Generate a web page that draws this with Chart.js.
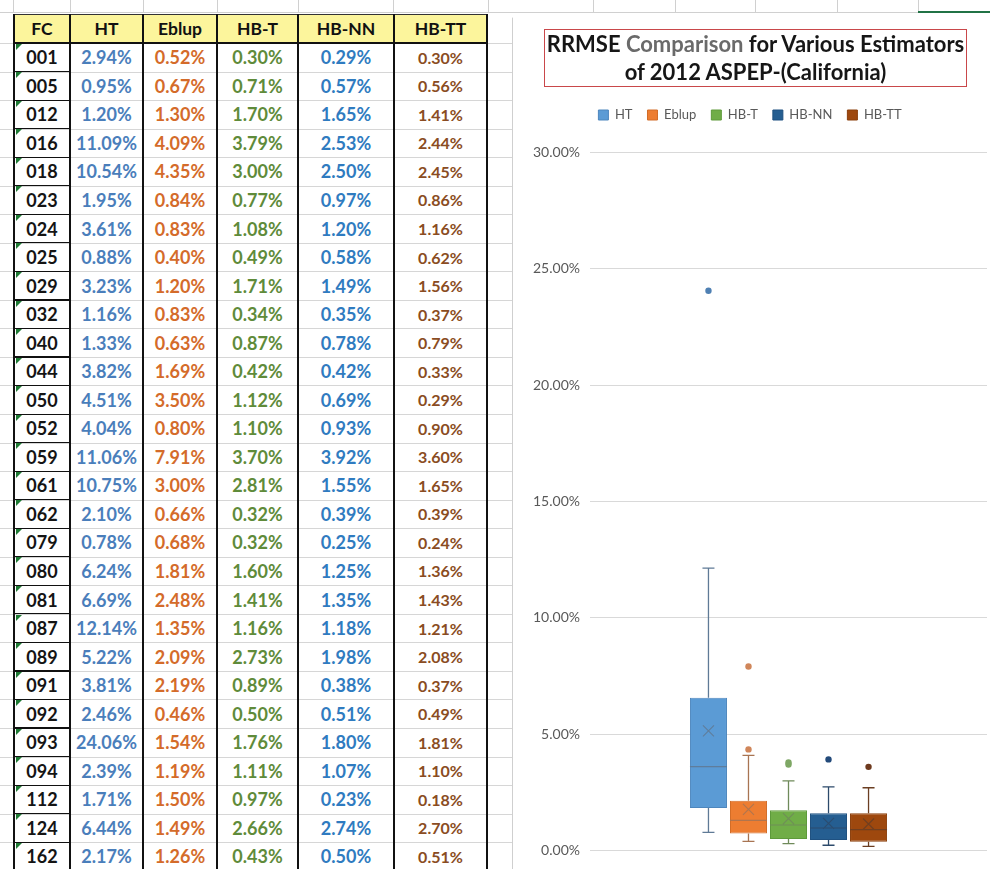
<!DOCTYPE html>
<html>
<head>
<meta charset="utf-8">
<script src="https://cdn.jsdelivr.net/npm/chart.js@4"></script>
<style>
  html, body { margin: 0; padding: 0; background: #fff; }
  body { width: 990px; height: 869px; overflow: hidden; position: relative; font-family: Lato, "Open Sans", sans-serif; }
  .ln { position: absolute; }
  .cell { position: absolute; display: flex; align-items: center; justify-content: center; font-weight: 700; white-space: nowrap; }
  .tri { position: absolute; width: 0; height: 0; border-top: 6px solid #1e7b34; border-right: 6px solid transparent; }
  #chartBox { position: absolute; left: 513px; top: 17px; width: 490px; height: 852px; background: #fff; }
  #title { position: absolute; left: 544px; top: 29px; width: 421px; height: 56px; border: 1.5px solid #c9474a;
           font-weight: 700; font-size: 22px; line-height: 28px; text-align: center; color: #161616; }
  #title .soft { color: #6a6a6a; }
</style>
</head>
<body>
<div id="sheet"></div>
<div id="chartBox"><canvas id="c" width="490" height="852"></canvas></div>
<div id="title"><div>RRMSE <span class="soft">Comparison</span> for Various Estimators</div><div>of 2012 ASPEP-(California)</div></div>
<script>
// FC codes and RRMSE (%) of each estimator
const fcCodes = ['001','005','012','016','018','023','024','025','029','032','040','044','050','052','059',
                 '061','062','079','080','081','087','089','091','092','093','094','112','124','162'];
const htValues    = [2.94,0.95,1.20,11.09,10.54,1.95,3.61,0.88,3.23,1.16,1.33,3.82,4.51,4.04,11.06,
                     10.75,2.10,0.78,6.24,6.69,12.14,5.22,3.81,2.46,24.06,2.39,1.71,6.44,2.17];
const eblupValues = [0.52,0.67,1.30,4.09,4.35,0.84,0.83,0.40,1.20,0.83,0.63,1.69,3.50,0.80,7.91,
                     3.00,0.66,0.68,1.81,2.48,1.35,2.09,2.19,0.46,1.54,1.19,1.50,1.49,1.26];
const hbtValues   = [0.30,0.71,1.70,3.79,3.00,0.77,1.08,0.49,1.71,0.34,0.87,0.42,1.12,1.10,3.70,
                     2.81,0.32,0.32,1.60,1.41,1.16,2.73,0.89,0.50,1.76,1.11,0.97,2.66,0.43];
const hbnnValues  = [0.29,0.57,1.65,2.53,2.50,0.97,1.20,0.58,1.49,0.35,0.78,0.42,0.69,0.93,3.92,
                     1.55,0.39,0.25,1.25,1.35,1.18,1.98,0.38,0.51,1.80,1.07,0.23,2.74,0.50];
const hbttValues  = [0.30,0.56,1.41,2.44,2.45,0.86,1.16,0.62,1.56,0.37,0.79,0.33,0.29,0.90,3.60,
                     1.65,0.39,0.24,1.36,1.43,1.21,2.08,0.37,0.49,1.81,1.10,0.18,2.70,0.51];
const seriesNames = ['HT','Eblup','HB-T','HB-NN','HB-TT'];
const seriesValues = [htValues, eblupValues, hbtValues, hbnnValues, hbttValues];
const yTickMax = 30;
const yTickStep = 5;

// ---------- worksheet table ----------
const sheet = document.getElementById('sheet');
function el(cls, css, html) {
  const d = document.createElement('div');
  d.className = cls;
  Object.assign(d.style, css);
  if (html !== undefined) d.textContent = html;
  sheet.appendChild(d);
  return d;
}
const colEdges = [14, 70, 143, 217, 298, 394, 487];
const headTop = 14, headBottom = 43, rowH = 28.54;
const textColors = ['#4a7ebb', '#d46b2a', '#5f8b3a', '#2f7bc0', '#8a4c22'];
const textSizes = ['18px', '18px', '18px', '18px', '16px'];

// header fill
el('ln', { left: colEdges[0] + 'px', top: headTop + 'px', width: (colEdges[6] - colEdges[0]) + 'px', height: (headBottom - headTop) + 'px', background: '#fcf59c' });
// sheet gridlines
el('ln', { left: '0px', top: '12px', width: '990px', height: '1px', background: '#d0d0d0' });
[13, 70, 143, 217, 298, 393, 488, 593, 675, 755, 837, 918].forEach(x =>
  el('ln', { left: x + 'px', top: '0px', width: '1px', height: '13px', background: '#d0d0d0' }));
el('ln', { left: '918px', top: '11px', width: '72px', height: '2px', background: '#217346' });
for (let i = 0; i <= fcCodes.length; i++) {
  const y = headBottom + i * rowH;
  el('ln', { left: '0px', top: y + 'px', width: '512px', height: '1px', background: '#d6d6d6' });
  el('ln', { left: colEdges[0] + 'px', top: (y - 0.5) + 'px', width: (colEdges[1] - colEdges[0]) + 'px', height: '1.2px', background: '#111' });
}
el('ln', { left: colEdges[0] + 'px', top: headTop + 'px', width: (colEdges[6] - colEdges[0]) + 'px', height: '1px', background: '#333' });
el('ln', { left: colEdges[0] + 'px', top: (headBottom - 1.5) + 'px', width: (colEdges[6] - colEdges[0]) + 'px', height: '2.5px', background: '#111' });
colEdges.forEach((x, k) => {
  const w = k === 1 ? 1.6 : 2.6;
  el('ln', { left: (x - w / 2) + 'px', top: headTop + 'px', width: w + 'px', height: (869 - headTop) + 'px', background: '#111' });
});
// header labels
['FC'].concat(seriesNames).forEach((name, k) => {
  el('cell', { left: colEdges[k] + 'px', top: headTop + 'px', width: (colEdges[k + 1] - colEdges[k]) + 'px', height: (headBottom - headTop) + 'px', fontSize: '17.5px', color: '#111' }, name);
});
// body rows
fcCodes.forEach((code, i) => {
  const top = headBottom + i * rowH;
  el('cell', { left: colEdges[0] + 'px', top: top + 'px', width: (colEdges[1] - colEdges[0]) + 'px', height: rowH + 'px', fontSize: '18px', color: '#141414' }, code);
  el('tri', { left: (colEdges[0] + 1.5) + 'px', top: (top + 0.7) + 'px' });
  seriesValues.forEach((vals, k) => {
    el('cell', { left: colEdges[k + 1] + 'px', top: top + 'px', width: (colEdges[k + 2] - colEdges[k + 1]) + 'px', height: rowH + 'px',
                 fontSize: textSizes[k], color: textColors[k] }, vals[i].toFixed(2) + '%');
  });
});
// chart frame edge
el('ln', { left: '512px', top: '17px', width: '1px', height: '852px', background: '#cfcfcf' });
el('ln', { left: '512px', top: '17px', width: '478px', height: '1px', background: '#ececec' });

// ---------- box-plot statistics (exclusive quartiles) ----------
function quantileExc(sorted, p) {
  const n = sorted.length, pos = (n + 1) * p;
  const lo = Math.floor(pos), frac = pos - lo;
  if (lo < 1) return sorted[0];
  if (lo >= n) return sorted[n - 1];
  return sorted[lo - 1] + frac * (sorted[lo] - sorted[lo - 1]);
}
function boxStats(values) {
  const s = values.slice().sort((a, b) => a - b);
  const q1 = quantileExc(s, 0.25), med = quantileExc(s, 0.5), q3 = quantileExc(s, 0.75);
  const iqr = q3 - q1, lowF = q1 - 1.5 * iqr, highF = q3 + 1.5 * iqr;
  const inside = s.filter(v => v >= lowF && v <= highF);
  return {
    q1, med, q3,
    lo: inside[0], hi: inside[inside.length - 1],
    mean: s.reduce((a, b) => a + b, 0) / s.length,
    outliers: s.filter(v => v < lowF || v > highF)
  };
}
const stats = seriesValues.map(boxStats);

const fillColors    = ['#5b9bd5', '#ed7d31', '#70ad47', '#255e91', '#9e480e'];
const borderColors  = ['#4d86bd', '#d26d28', '#5e9a3b', '#1f5181', '#8a3e0b'];
const whiskerColors = ['#5f7a96', '#a87452', '#6f8a5a', '#2c4a6b', '#6b3e22'];
const outlierColors = ['#4f80b3', '#d0865a', '#7ea765', '#234a7a', '#6e3a1e'];

// whiskers, medians, means and outliers drawn on top of the floating bars
const boxWhiskers = {
  id: 'boxWhiskers',
  afterDatasetsDraw(chart) {
    const { ctx } = chart;
    const y = chart.scales.y;
    stats.forEach((st, i) => {
      const meta = chart.getDatasetMeta(i);
      if (!meta.visible || !meta.data[0]) return;
      const bar = meta.data[0];
      const x = bar.x, half = bar.width / 2;
      ctx.save();
      ctx.strokeStyle = whiskerColors[i];
      ctx.lineWidth = 1.3;
      ctx.beginPath();
      ctx.moveTo(x, y.getPixelForValue(st.q3)); ctx.lineTo(x, y.getPixelForValue(st.hi));
      ctx.moveTo(x - 6, y.getPixelForValue(st.hi)); ctx.lineTo(x + 6, y.getPixelForValue(st.hi));
      ctx.moveTo(x, y.getPixelForValue(st.q1)); ctx.lineTo(x, y.getPixelForValue(st.lo));
      ctx.moveTo(x - 6, y.getPixelForValue(st.lo)); ctx.lineTo(x + 6, y.getPixelForValue(st.lo));
      ctx.stroke();
      ctx.strokeStyle = borderColors[i];
      ctx.globalAlpha = 0.9;
      ctx.beginPath();
      ctx.strokeStyle = whiskerColors[i];
      ctx.moveTo(x - half, y.getPixelForValue(st.med)); ctx.lineTo(x + half, y.getPixelForValue(st.med));
      const ym = y.getPixelForValue(st.mean);
      ctx.moveTo(x - 5.5, ym - 5.5); ctx.lineTo(x + 5.5, ym + 5.5);
      ctx.moveTo(x + 5.5, ym - 5.5); ctx.lineTo(x - 5.5, ym + 5.5);
      ctx.lineWidth = 1.1;
      ctx.stroke();
      ctx.globalAlpha = 1;
      ctx.fillStyle = outlierColors[i];
      st.outliers.forEach(v => {
        ctx.beginPath();
        ctx.arc(x, y.getPixelForValue(v), 3.2, 0, Math.PI * 2);
        ctx.fill();
      });
      ctx.restore();
    });
  }
};

// extra room between the legend and the plot
const legendGap = {
  id: 'legendGap',
  beforeLayout(chart) {
    const lg = chart.legend;
    if (lg && !lg._gapPatched) {
      const fit = lg.fit;
      lg.fit = function () { fit.call(this); this.height += 21; };
      lg._gapPatched = true;
    }
  }
};

new Chart(document.getElementById('c'), {
  type: 'bar',
  data: {
    labels: [''],
    datasets: seriesNames.map((name, i) => ({
      label: name,
      data: [[stats[i].q1, stats[i].q3]],
      backgroundColor: fillColors[i],
      borderColor: borderColors[i],
      borderWidth: 1,
      borderSkipped: false,
      categoryPercentage: 0.504,
      barPercentage: 0.925
    }))
  },
  options: {
    responsive: false,
    animation: false,
    layout: { padding: { top: 76.5, bottom: 18, left: 0, right: 16 } },
    plugins: {
      legend: {
        position: 'top',
        labels: { boxWidth: 10, boxHeight: 10, padding: 15, color: '#595959', font: { family: 'Lato', size: 13 } }
      },
      tooltip: { enabled: false },
      title: { display: false }
    },
    scales: {
      x: { display: false },
      y: {
        min: 0, max: yTickMax,
        ticks: { stepSize: yTickStep, padding: 10, color: '#595959', font: { family: 'Lato', size: 14 },
                 callback: v => v.toFixed(2) + '%' },
        grid: { color: '#d9d9d9', drawTicks: false },
        border: { display: false },
        afterFit(scale) { scale.width = 77; }
      }
    }
  },
  plugins: [boxWhiskers, legendGap]
});
</script>
</body>
</html>
